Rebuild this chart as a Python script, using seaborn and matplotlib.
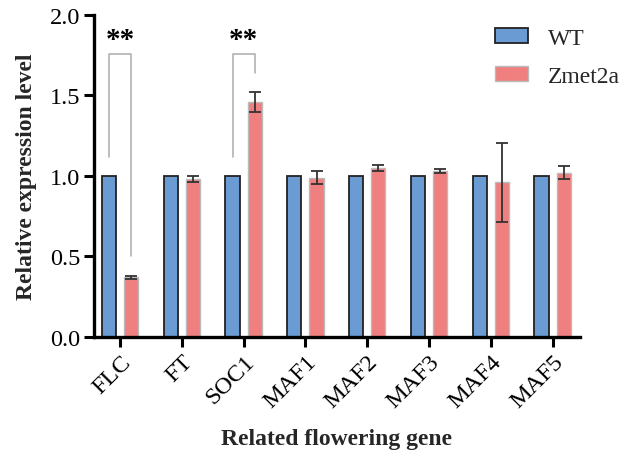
import matplotlib
matplotlib.use("Agg")
import matplotlib.pyplot as plt
import seaborn as sns
import pandas as pd
import numpy as np

genes = ["FLC", "FT", "SOC1", "MAF1", "MAF2", "MAF3", "MAF4", "MAF5"]
wt_values = [1.0, 1.0, 1.0, 1.0, 1.0, 1.0, 1.0, 1.0]
mut_values = [0.37, 0.98, 1.46, 0.99, 1.05, 1.03, 0.96, 1.02]
mut_errors = [0.01, 0.02, 0.06, 0.04, 0.02, 0.01, 0.245, 0.04]
groups = ["WT", "Zmet2a"]
sig_genes = ["FLC", "SOC1"]
sig_left = [1.12, 1.12]
sig_top = [1.76, 1.76]
sig_right = [0.50, 1.64]
sig_label = "**"

sns.set_theme(style="white")
plt.rcParams["font.family"] = ["Liberation Serif", "DejaVu Serif"]

df = pd.DataFrame({
    "gene": genes * 2,
    "group": [groups[0]] * len(genes) + [groups[1]] * len(genes),
    "value": wt_values + mut_values,
})

fig = plt.figure(figsize=(6.24, 4.56), dpi=100)
ax = fig.add_axes([0.151, 0.259, 0.778, 0.706])

palette = {"WT": "#6A9BD2", "Zmet2a": "#F07F80"}
edges = {"WT": ("#222222", 1.3), "Zmet2a": ("#BBBBBB", 1.0)}
sns.barplot(data=df, x="gene", y="value", hue="group", palette=palette,
            width=0.72, gap=0.36, errorbar=None, ax=ax, saturation=1, legend=False)

nb = len(genes)
for i, p in enumerate(ax.patches[:2 * nb]):
    ec, lw = edges[groups[0]] if i < nb else edges[groups[1]]
    p.set_edgecolor(ec)
    p.set_linewidth(lw)

mut_patches = ax.patches[nb:2 * nb]
xs = [p.get_x() + p.get_width() / 2 for p in mut_patches]
ax.errorbar(xs, mut_values, yerr=mut_errors, fmt="none", ecolor="#333333",
            elinewidth=1.3, capsize=4, capthick=1.3, zorder=5)

wt_patches = ax.patches[:nb]
wxs = [p.get_x() + p.get_width() / 2 for p in wt_patches]

for g, yl, yt, yr in zip(sig_genes, sig_left, sig_top, sig_right):
    i = genes.index(g)
    x1, x2 = wxs[i], xs[i]
    ax.plot([x1, x1, x2, x2], [yl, yt, yt, yr], color="#ABABAB", lw=1.1, zorder=4)
    ax.text((x1 + x2) / 2, 1.85, sig_label, ha="center", va="center",
            fontsize=21, fontweight="bold", color="black")

ax.set_xlim(-0.42, nb - 1 + 0.44)
ax.set_ylim(0, 2.0)
ax.set_yticks([0, 0.5, 1.0, 1.5, 2.0])
ax.set_yticklabels(["0.0", "0.5", "1.0", "1.5", "2.0"], fontsize=17.5)
ax.set_xticks(range(nb))
ax.set_xticklabels(genes, rotation=45, ha="right", rotation_mode="anchor", fontsize=17.5)

for s in ["top", "right"]:
    ax.spines[s].set_visible(False)
for s in ["left", "bottom"]:
    ax.spines[s].set_linewidth(2.4)
    ax.spines[s].set_color("black")
ax.tick_params(axis="both", which="major", direction="out", length=7, width=2.2,
               colors="black", pad=3, left=True, bottom=True)

ax.set_xlabel("Related flowering gene", fontsize=17, fontweight="bold", labelpad=12)
ax.set_ylabel("Relative expression level", fontsize=17, fontweight="bold", labelpad=9)

handles = [matplotlib.patches.Patch(facecolor=palette[g], edgecolor=edges[g][0],
                                    linewidth=edges[g][1], label=g) for g in groups]
ax.legend(handles=handles, loc="upper left", bbox_to_anchor=(0.793, 0.937),
          bbox_transform=fig.transFigure, frameon=False, fontsize=17,
          handlelength=1.4, handleheight=0.6, handletextpad=0.85, labelspacing=0.72,
          borderaxespad=0, borderpad=0)

fig.savefig("out.png", dpi=100)
